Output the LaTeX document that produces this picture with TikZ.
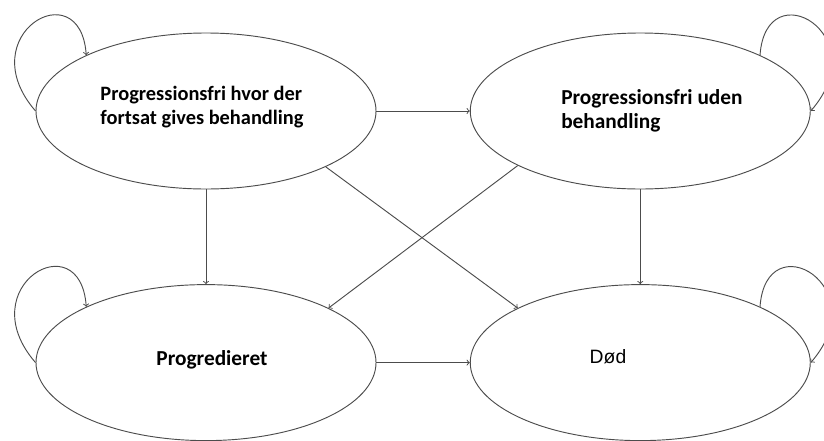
\documentclass[tikz,border=0pt]{standalone}
\usepackage{fontspec}
\setmainfont{Carlito}
\newfontfamily\arialfont{Liberation Sans}
\usetikzlibrary{positioning,shapes,arrows}
\tikzstyle{state} = [draw=black!70, line width=0.7pt, ellipse, minimum width=255pt, minimum height=117pt]
\tikzstyle{txt} = [font=\bfseries\fontsize{16}{18.2}\selectfont, align=left, inner sep=0pt]
\tikzstyle{link} = [draw=black!70, line width=0.7pt, ->]

\begin{document}
\begin{tikzpicture}[x=0.75pt, y=-0.75pt]
        \useasboundingbox (0,0) rectangle (824,440);
        %States
        \node [state] (free) at (206,111) {};
        \node [state, right = 70pt of free] (freenone) {};
        \node [state, below = 71pt of free] (prog) {};
        \node [state, right = 70pt of prog] (dead) {};
        %Texts
        \node [txt, font=\bfseries\fontsize{15.3}{18.2}\selectfont] (freetxt) at (202,107) {Progressionsfri hvor der\\fortsat gives behandling};
        \node [txt, anchor=west] (freenonetxt) at (561,111) {Progressionsfri uden\\behandling};
        \node [txt] (progtxt) at (212,360) {Progredieret};
        \node [txt, font=\arialfont\fontsize{14.5}{17}\selectfont] (deadtxt) at (608,357) {Død};
        %Arrows
        \draw [link] (free.east) -- (freenone.west);
        \draw [link] (free.south) -- (prog.north);
        \draw [link] (freenone.south) -- (dead.north);
        \draw [link] (prog.east) -- (dead.west);
        \draw [link] (free.-25) -- (dead.156);
        \draw [link] (freenone.204) -- (prog.24);
        %Loops
        \draw [link] (free.west) .. controls +(-66,-76) and +(-6,-85) .. (free.155);
        \draw [link] (freenone.25) .. controls +(6,-85) and +(66,-76) .. (freenone.east);
        \draw [link] (prog.west) .. controls +(-66,-76) and +(-6,-85) .. (prog.155);
        \draw [link] (dead.25) .. controls +(6,-85) and +(66,-76) .. (dead.east);
\end{tikzpicture}
\end{document}
